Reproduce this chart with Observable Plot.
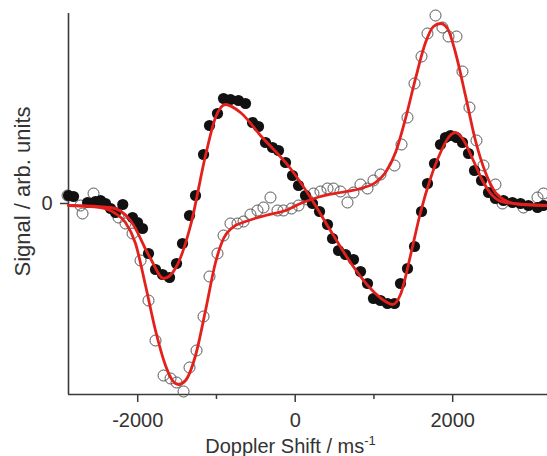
<!DOCTYPE html>
<html>
<head>
<meta charset="utf-8">
<script src="https://cdn.jsdelivr.net/npm/d3@7"></script>
<script src="https://cdn.jsdelivr.net/npm/@observablehq/plot@0.6"></script>
<style>
  html, body { margin: 0; padding: 0; background: #fff; }
  #chart { width: 547px; height: 456px; }
</style>
</head>
<body>
<div id="chart"></div>
<script>
// Filled-circle series (Doppler shift in m/s, signal in arb. units)
const filledX = [-2879,-2815,-2637,-2536,-2472,-2409,-2345,-2282,-2190,-2066,-2002,-1939,-1863,-1774,-1685,-1596,-1507,-1431,-1342,-1266,-1164,-1088,-987,-910,-822,-720,-631,-542,-466,-377,-288,-212,-123,-34,42,131,220,309,410,474,550,639,740,829,918,994,1083,1172,1261,1337,1426,1515,1604,1680,1769,1845,1908,1972,2048,2124,2201,2277,2366,2455,2543,2645,2759,2861,2962,3077,3153];
const filledY = [0.08,0.07,0.01,0.02,0.03,0.00,-0.05,-0.09,-0.01,-0.14,-0.19,-0.25,-0.50,-0.66,-0.71,-0.74,-0.60,-0.40,-0.12,0.08,0.49,0.78,0.90,1.05,1.04,1.03,1.00,0.81,0.77,0.61,0.56,0.53,0.41,0.28,0.18,0.08,0.00,-0.08,-0.21,-0.35,-0.47,-0.51,-0.56,-0.68,-0.80,-0.95,-0.97,-1.00,-1.00,-0.80,-0.65,-0.43,-0.08,0.20,0.40,0.59,0.66,0.68,0.66,0.61,0.50,0.33,0.23,0.11,0.05,0.03,0.01,0.00,-0.02,-0.04,-0.02];

// Open-circle series
const openX = [-2891,-2726,-2701,-2561,-2244,-2155,-2066,-1964,-1863,-1774,-1672,-1583,-1507,-1418,-1342,-1253,-1164,-1088,-987,-910,-822,-733,-656,-568,-479,-403,-314,-225,-149,-47,42,156,232,321,410,486,575,664,740,829,918,994,1083,1261,1350,1426,1515,1604,1680,1782,1870,1947,2048,2124,2213,2302,2391,2543,2632,2899,3077,3153];
const openY = [0.08,-0.02,-0.10,0.10,-0.14,-0.20,-0.30,-0.57,-0.97,-1.37,-1.72,-1.75,-1.79,-1.88,-1.64,-1.47,-1.13,-0.73,-0.50,-0.32,-0.20,-0.20,-0.18,-0.11,-0.07,-0.04,0.06,-0.07,-0.07,-0.05,-0.02,0.04,0.10,0.12,0.15,0.15,0.12,0.01,0.11,0.19,0.15,0.23,0.29,0.38,0.59,0.86,1.20,1.47,1.70,1.88,1.76,1.67,1.67,1.32,0.96,0.63,0.38,0.19,0.00,-0.04,0.06,0.10];

// Fitted curves (red)
const fitFilledX = [-2879,-2345,-2091,-1838,-1672,-1507,-1329,-1139,-1012,-885,-695,-441,-60,194,448,702,956,1147,1236,1337,1464,1591,1718,1845,1947,2035,2124,2251,2378,2505,2670,3204];
const fitFilledY = [-0.02,-0.04,-0.17,-0.55,-0.75,-0.63,-0.22,0.48,0.86,0.99,0.91,0.68,0.35,0.06,-0.27,-0.59,-0.85,-0.98,-1.01,-0.91,-0.52,-0.09,0.25,0.51,0.66,0.71,0.65,0.45,0.23,0.08,0.01,-0.02];
const fitOpenX = [-2879,-2472,-2282,-2155,-2028,-1901,-1774,-1647,-1558,-1482,-1393,-1266,-1139,-1012,-910,-796,-631,-377,-123,67,321,575,829,1020,1147,1274,1401,1528,1655,1756,1845,1934,2035,2162,2289,2416,2543,2670,2861,3204];
const fitOpenY = [-0.02,-0.04,-0.10,-0.19,-0.40,-0.82,-1.27,-1.62,-1.77,-1.81,-1.77,-1.52,-1.07,-0.59,-0.35,-0.24,-0.18,-0.12,-0.07,0.00,0.07,0.11,0.15,0.21,0.31,0.51,0.85,1.25,1.61,1.77,1.80,1.75,1.51,1.08,0.63,0.31,0.11,0.03,-0.01,-0.02];

const majorTicks = [-2000, 0, 2000];
const minorTicks = [-1000, 1000];
const yTicks = [0];
const xLabel = "Doppler Shift / ms";
const xLabelSup = "-1";
const yLabel = "Signal / arb. units";

const zip = (xs, ys) => xs.map((x, i) => ({x, y: ys[i]}));
const filled = zip(filledX, filledY);
const open = zip(openX, openY);
const fitFilled = zip(fitFilledX, fitFilledY);
const fitOpen = zip(fitOpenX, fitOpenY);

const xDomain = [-2879, 3204];
const yDomain = [-1.91, 1.90];
const axisColor = "#3a3a3a";
const red = "#e3211c";

const chart = Plot.plot({
  width: 547,
  height: 456,
  marginLeft: 68,
  marginRight: 0,
  marginTop: 13,
  marginBottom: 62,
  style: {fontFamily: "'Liberation Sans', Arial, sans-serif", fontSize: "20px", color: "#333", background: "#fff", overflow: "visible"},
  x: {domain: xDomain},
  y: {domain: yDomain},
  marks: [
    Plot.ruleY([yDomain[0]], {stroke: axisColor, strokeWidth: 1.6}),
    Plot.ruleX([xDomain[0]], {stroke: axisColor, strokeWidth: 1.6}),
    Plot.axisX(majorTicks, {tickSize: 8, tickPadding: 10, label: null, tickFormat: d => String(d), stroke: axisColor, strokeWidth: 1.5, fill: "#333", fontSize: 20}),
    Plot.axisX(minorTicks, {tickSize: 5, tickFormat: () => "", label: null, stroke: axisColor, strokeWidth: 1.5}),
    Plot.axisY(yTicks, {tickSize: 8, tickPadding: 8, label: null, tickFormat: d => String(d), stroke: axisColor, strokeWidth: 1.5, fill: "#333", fontSize: 20}),
    Plot.text([xLabel], {frameAnchor: "bottom", x: -60, dy: 58, lineAnchor: "bottom", textAnchor: "middle", fill: "#333", fontSize: 20, className: "xlab"}),
    Plot.text([yLabel], {frameAnchor: "left", y: 0.12, dx: -46, rotate: -90, textAnchor: "middle", lineAnchor: "middle", fill: "#333", fontSize: 22}),
    Plot.dot(open, {x: "x", y: "y", r: 5.5, stroke: "#555", strokeWidth: 1, fill: "none"}),
    Plot.dot(filled, {x: "x", y: "y", r: 5.6, fill: "#111", stroke: "none"}),
    Plot.line(fitOpen, {x: "x", y: "y", stroke: red, strokeWidth: 2.8, curve: "monotone-x"}),
    Plot.line(fitFilled, {x: "x", y: "y", stroke: red, strokeWidth: 2.8, curve: "monotone-x"})
  ]
});

document.getElementById("chart").appendChild(chart);

// add superscript to the x label
d3.select(chart).selectAll(".xlab text").each(function() {
  d3.select(this).append("tspan").attr("dy", "-0.55em").attr("font-size", "13px").text(xLabelSup);
});
</script>
</body>
</html>
